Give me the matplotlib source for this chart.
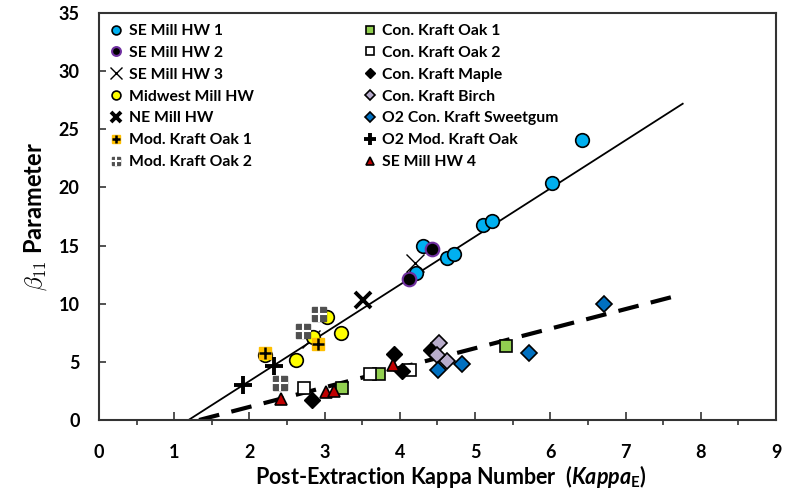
import matplotlib
matplotlib.use('Agg')
import matplotlib.pyplot as plt

plt.rcParams['font.family'] = ['Lato', 'DejaVu Sans']
plt.rcParams['font.weight'] = 'bold'
plt.rcParams['axes.labelweight'] = 'bold'
plt.rcParams['mathtext.fontset'] = 'custom'
plt.rcParams['mathtext.rm'] = 'Lato:bold'
plt.rcParams['mathtext.it'] = 'Lato:bold:italic'
plt.rcParams['mathtext.bf'] = 'Lato:bold'

# data
se1_x = [4.22, 4.31, 4.62, 4.72, 5.10, 5.22, 6.02, 6.42]
se1_y = [12.6, 15.0, 13.9, 14.3, 16.8, 17.1, 20.4, 24.1]
se2_x = [4.12, 4.43]
se2_y = [12.1, 14.7]
se3_x = [4.20, 2.82]
se3_y = [13.5, 7.0]
mid_x = [3.03, 3.22, 2.62, 2.21, 2.84]
mid_y = [8.85, 7.45, 5.2, 5.6, 7.1]
ne_x = [3.51]
ne_y = [10.3]
mko1_x = [2.21, 2.91]
mko1_y = [5.75, 6.55]
mko2_x = [2.92, 2.71, 2.41]
mko2_y = [9.1, 7.65, 3.2]
cko1_x = [3.23, 3.72, 5.41]
cko1_y = [2.75, 4.0, 6.35]
cko2_x = [2.72, 3.60, 4.13]
cko2_y = [2.75, 3.95, 4.3]
maple_x = [2.83, 3.92, 4.03, 4.41]
maple_y = [1.7, 5.65, 4.2, 6.0]
birch_x = [4.52, 4.63, 4.50]
birch_y = [6.6, 5.1, 5.6]
sweet_x = [4.51, 4.82, 5.71, 6.71]
sweet_y = [4.3, 4.8, 5.75, 10.0]
o2mko_x = [1.92, 2.32]
o2mko_y = [3.0, 4.65]
se4_x = [2.42, 3.02, 3.12, 3.91]
se4_y = [1.8, 2.4, 2.5, 4.7]

fit1_x = [1.19, 7.76]
fit1_y = [0.0, 27.2]
fit2_x = [1.33, 7.72]
fit2_y = [0.0, 10.75]

fig = plt.figure(figsize=(7.94, 4.97), dpi=100)
ax = fig.add_axes([0.1247, 0.1549, 0.8526, 0.8189])

ax.plot(fit1_x, fit1_y, color='black', lw=1.3, zorder=2)
ax.plot(fit2_x, fit2_y, color='black', lw=3, dashes=(5, 3), zorder=2)

ms = 9.8
kw = dict(linestyle='none', zorder=3)
h = {}
h['se1'], = ax.plot(se1_x, se1_y, 'o', ms=ms, mfc='#00B0F0', mec='black', mew=1.2, **kw)
h['se2'], = ax.plot(se2_x, se2_y, 'o', ms=ms, mfc='black', mec='#7030A0', mew=1.5, **kw)
h['se3'], = ax.plot(se3_x, se3_y, 'x', ms=13, color='black', mew=1.0, **kw)
h['mid'], = ax.plot(mid_x, mid_y, 'o', ms=ms, mfc='#FFFF00', mec='black', mew=1.2, **kw)
h['ne'], = ax.plot(ne_x, ne_y, 'x', ms=11, color='black', mew=2.8, **kw)
a, = ax.plot(mko1_x, mko1_y, 's', ms=9, mfc='#FFC000', mec='#FFC000', **kw)
b, = ax.plot(mko1_x, mko1_y, '+', ms=9, color='black', mew=1.8, zorder=4)
h['mko1'] = (a, b)
a, = ax.plot(mko2_x, mko2_y, 's', ms=9.5, mfc='#505050', mec='#505050', **kw)
b, = ax.plot(mko2_x, mko2_y, '+', ms=11, color='white', mew=1.5, zorder=4)
h['mko2'] = (a, b)
h['cko1'], = ax.plot(cko1_x, cko1_y, 's', ms=9, mfc='#92D050', mec='black', mew=1.2, **kw)
h['cko2'], = ax.plot(cko2_x, cko2_y, 's', ms=9, mfc='white', mec='black', mew=1.2, **kw)
h['maple'], = ax.plot(maple_x, maple_y, 'D', ms=8, mfc='black', mec='black', **kw)
h['birch'], = ax.plot(birch_x, birch_y, 'D', ms=8, mfc='#B8ACCB', mec='black', mew=1.2, **kw)
h['sweet'], = ax.plot(sweet_x, sweet_y, 'D', ms=8, mfc='#0070C0', mec='black', mew=1.2, **kw)
h['o2mko'], = ax.plot(o2mko_x, o2mko_y, '+', ms=13, color='black', mew=2.8, **kw)
h['se4'], = ax.plot(se4_x, se4_y, '^', ms=9, mfc='#C00000', mec='black', mew=1.2, **kw)

order = ['se1', 'se2', 'se3', 'mid', 'ne', 'mko1', 'mko2',
         'cko1', 'cko2', 'maple', 'birch', 'sweet', 'o2mko', 'se4']
labels = ['SE Mill HW 1', 'SE Mill HW 2', 'SE Mill HW 3', 'Midwest Mill HW',
          'NE Mill HW', 'Mod. Kraft Oak 1', 'Mod. Kraft Oak 2',
          'Con. Kraft Oak 1', 'Con. Kraft Oak 2', 'Con. Kraft Maple',
          'Con. Kraft Birch', 'O2 Con. Kraft Sweetgum', 'O2 Mod. Kraft Oak',
          'SE Mill HW 4']
ax.legend([h[k] for k in order], labels, ncol=2, loc='upper left',
          frameon=False, prop={'size': 11.3, 'weight': 'bold'},
          markerscale=0.65, handlelength=0.8,
          handletextpad=0.4, columnspacing=7.0, labelspacing=0.5,
          borderaxespad=0.3, bbox_to_anchor=(0.0, 1.0))

ax.set_xlim(0, 9)
ax.set_ylim(0, 35)
ax.set_xticks(range(0, 10))
ax.set_xticks([i + 0.5 for i in range(9)], minor=True)
ax.set_yticks(range(0, 40, 5))
ax.tick_params(axis='both', direction='in', labelsize=13, width=1.2, color='#333333')
ax.tick_params(axis='x', which='major', length=6, pad=17)
ax.tick_params(axis='x', which='minor', length=3.5, width=1.2, color='#333333')
ax.tick_params(axis='y', length=5, pad=14)
for lab in ax.get_xticklabels() + ax.get_yticklabels():
    lab.set_fontweight('bold')
for s in ax.spines.values():
    s.set_linewidth(1.5)
    s.set_color('#333333')

ax.set_xlabel(r'Post-Extraction Kappa Number  ($\mathit{Kappa}_{\mathrm{E}}$)',
              fontsize=15.5, fontweight='bold')
ax.xaxis.set_label_coords(0.52, -0.105)
ax.set_ylabel(r'$\beta_{11}$ Parameter', fontsize=17, fontweight='bold',
              math_fontfamily='cm', labelpad=7)

fig.savefig('out.png', dpi=100)
